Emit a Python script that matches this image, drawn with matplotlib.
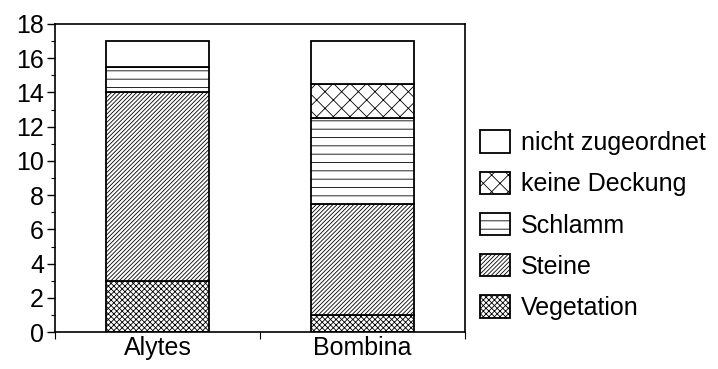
import numpy as np
import matplotlib.pyplot as plt

plt.rcParams['font.family'] = ['Liberation Sans', 'DejaVu Sans']
plt.rcParams['hatch.linewidth'] = 0.6

# Daten
arten = ["Alytes", "Bombina"]
kategorien = ["Vegetation", "Steine", "Schlamm", "keine Deckung", "nicht zugeordnet"]
vegetation = [3.0, 1.0]
steine = [11.0, 6.5]
schlamm = [1.5, 5.0]
keine_deckung = [0.0, 2.0]
nicht_zugeordnet = [1.5, 2.5]

werte = [vegetation, steine, schlamm, keine_deckung, nicht_zugeordnet]
muster = ["xxxxxx", "////////", "--", "xx", ""]

fig = plt.figure(figsize=(7.18, 3.69), dpi=100)
ax = fig.add_axes([0.0766, 0.100, 0.571, 0.835])

x = np.arange(len(arten)) + 0.5
unten = np.zeros(len(arten))
balken = []
for name, vals, h in zip(kategorien, werte, muster):
    b = ax.bar(x, vals, width=0.5, bottom=unten, color='white',
               edgecolor='black', linewidth=1.3, hatch=h, label=name)
    balken.append(b)
    unten += np.array(vals)

ax.set_xlim(0, 2)
ax.set_ylim(0, 18)
ax.set_yticks(np.arange(0, 19, 2))
ax.set_yticks(np.arange(1, 18, 2), minor=True)
ax.set_xticks([0, 1, 2])
ax.set_xticklabels([])
ax.set_xticks(x, minor=True)
ax.set_xticklabels(arten, minor=True)
ax.tick_params(axis='x', which='major', direction='out', length=5, width=0.8)
ax.tick_params(axis='x', which='minor', length=0, labelsize=18, pad=3)
ax.tick_params(axis='y', which='major', direction='out', length=6, width=1,
               labelsize=18, pad=2)
ax.tick_params(axis='y', which='minor', direction='out', length=3, width=0.8)
for s in ax.spines.values():
    s.set_linewidth(1.2)

handles = balken[::-1]
labels = kategorien[::-1]
ax.legend(handles, labels, loc='center left', bbox_to_anchor=(1.037, 0.347),
          frameon=False, fontsize=18, handlelength=1.2, handleheight=1.0,
          labelspacing=0.66, handletextpad=0.44, borderaxespad=0, borderpad=0)

plt.savefig("out.png", dpi=100)
